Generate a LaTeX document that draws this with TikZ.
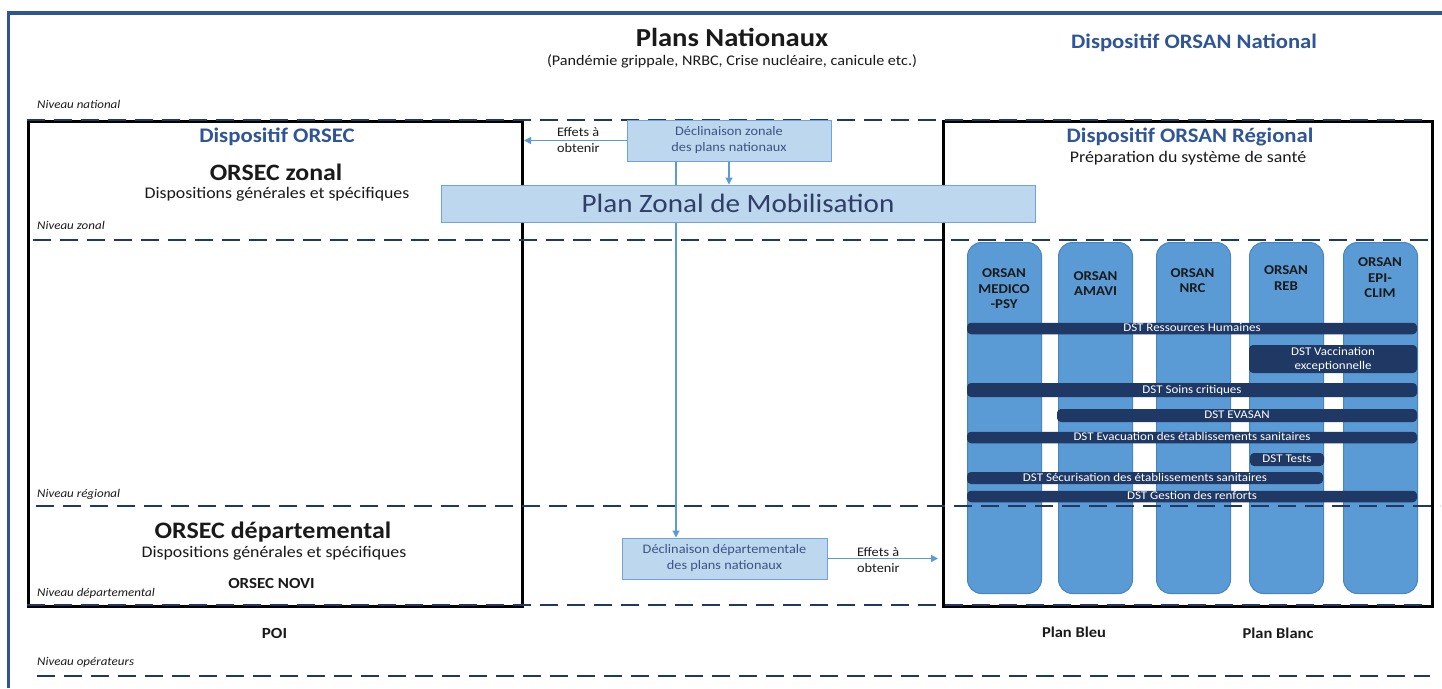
\documentclass[tikz,border=0pt]{standalone}
\usepackage{fontspec}
\setmainfont{Carlito}[FakeStretch=1.1]
\usetikzlibrary{arrows.meta}
\definecolor{frameblue}{HTML}{2F5597}
\definecolor{navy}{HTML}{1F3864}
\definecolor{lbfill}{HTML}{BDD7EE}
\definecolor{lbborder}{HTML}{6FA3DA}
\definecolor{colfill}{HTML}{5B9BD5}
\definecolor{colborder}{HTML}{4A84BF}
\definecolor{pzmtxt}{HTML}{2F3F66}
\definecolor{dectxt}{HTML}{3D5483}
\definecolor{arrowblue}{HTML}{5B9BD5}
\definecolor{txtblack}{HTML}{1A1A1A}
\tikzset{
  fs/.style={font=\fontsize{#1}{#1}\selectfont},
  plain/.style={inner sep=0, text=txtblack},
  lvl/.style={inner sep=0, anchor=west, text=txtblack, font=\fontsize{11.8}{13}\selectfont\itshape},
  blackbox/.style={draw=black, line width=3, anchor=north west, inner sep=0},
  niveaudash/.style={draw=navy, line width=2.5, dash pattern=on 18pt off 9pt},
  lightbox/.style={draw=lbborder, fill=lbfill, line width=1, inner sep=0, text=dectxt, align=center},
  colbox/.style={draw=colborder, fill=colfill, line width=1, rounded corners=14, anchor=north west, inner sep=0, minimum width=74, minimum height=351},
  collab/.style={inner sep=0, text=txtblack, align=center, font=\fontsize{13.5}{15.5}\selectfont\bfseries},
  dstbase/.style={fill=navy, rounded corners=4, inner sep=0, text=white, font=\fontsize{11.8}{14}\selectfont, align=center},
  dstbar/.style={dstbase, text height=8, text depth=2},
  arr/.style={draw=arrowblue, line width=1.2, -{Triangle[length=7pt,width=7pt]}},
  effets/.style={inner sep=0, anchor=west, text=txtblack, align=left, font=\fontsize{13}{16}\selectfont}
}
\begin{document}
\begin{tikzpicture}[x=1pt,y=-1pt]
\useasboundingbox (0,0) rectangle (1442,688);
\fill[white] (0,0) rectangle (1442,688);
% outer frame
\draw[frameblue, line width=3.5] (8.5,688) -- (8.5,13) -- (1442,13);
% titles
\node[plain, font=\fontsize{26}{30}\selectfont\bfseries] (title) at (732,37) {Plans Nationaux};
\node[plain, fs=14.7] (subtitle) at (732,61) {(Pandémie grippale, NRBC, Crise nucléaire, canicule etc.)};
\node[plain, font=\fontsize{20.6}{24}\selectfont\bfseries, text=frameblue] (orsannat) at (1194,43) {Dispositif ORSAN National};
% black boxes
\node[blackbox, minimum width=494, minimum height=485] (leftbox) at (27,120) {};
\node[blackbox, minimum width=489, minimum height=485] (rightbox) at (942,120) {};
% columns
\node[colbox] (col1) at (967,242) {};
\node[colbox] (col2) at (1058,242) {};
\node[colbox] (col3) at (1156,242) {};
\node[colbox] (col4) at (1249,242) {};
\node[colbox] (col5) at (1343,242) {};
\node[collab] (lab1) at (1004,289) {ORSAN\\MEDICO\\-PSY};
\node[collab] (lab2) at (1095.5,283.5) {ORSAN\\AMAVI};
\node[collab] (lab3) at (1192.5,280.5) {ORSAN\\NRC};
\node[collab] (lab4) at (1286,278) {ORSAN\\REB};
\node[collab] (lab5) at (1380,278) {ORSAN\\EPI-\\CLIM};
% DST bars
\node[dstbar, minimum width=450, minimum height=11.5] (rh) at (1192,328.5) {DST Ressources Humaines};
\node[dstbase, minimum width=168, minimum height=28] (vacc) at (1333,359) {DST Vaccination\\exceptionnelle};
\node[dstbar, minimum width=450, minimum height=14] (soins) at (1192,390) {DST Soins critiques};
\node[dstbar, minimum width=360, minimum height=13] (evasan) at (1237,415.5) {DST EVASAN};
\node[dstbar, minimum width=450, minimum height=11.5] (evac) at (1192,437.5) {DST Evacuation des établissements sanitaires};
\node[dstbar, minimum width=74, minimum height=13] (tests) at (1287,459.5) {DST Tests};
\node[dstbar, minimum width=356, minimum height=12] (secur) at (1145,478) {DST Sécurisation des établissements sanitaires};
\node[dstbar, minimum width=450, minimum height=11.5] (renf) at (1192,496.5) {DST Gestion des renforts};
% level dashed lines
\draw[niveaudash] (27,120) -- (1430,120);
\draw[niveaudash] (33,240) -- (1430,240);
\draw[niveaudash] (36,506) -- (1440,506);
\draw[niveaudash] (27,605) -- (1430,605);
\draw[niveaudash] (37,676) -- (1430,676);
% level labels
\node[lvl] (nnat) at (37,104) {Niveau national};
\node[lvl] (nzon) at (37,225) {Niveau zonal};
\node[lvl] (nreg) at (37,494) {Niveau régional};
\node[lvl] (ndep) at (37,593) {Niveau départemental};
\node[lvl] (nope) at (37,662) {Niveau opérateurs};
% left box texts
\node[plain, font=\fontsize{20.7}{24}\selectfont\bfseries, text=frameblue] (dorsec) at (277,137) {Dispositif ORSEC};
\node[plain, font=\fontsize{23.5}{27}\selectfont\bfseries] (orsecz) at (276,172) {ORSEC zonal};
\node[plain, fs=16.2] (dispz) at (277,194) {Dispositions générales et spécifiques};
\node[plain, font=\fontsize{23.6}{27}\selectfont\bfseries] (orsecd) at (273,532) {ORSEC départemental};
\node[plain, fs=16.2] (dispd) at (274,553) {Dispositions générales et spécifiques};
\node[plain, font=\fontsize{15.4}{17}\selectfont\bfseries] (novi) at (271.5,583) {ORSEC NOVI};
\node[plain, font=\fontsize{15.5}{18}\selectfont\bfseries] (poi) at (274.5,633) {POI};
% right box texts
\node[plain, font=\fontsize{20.6}{24}\selectfont\bfseries, text=frameblue] (orsanreg) at (1190,137) {Dispositif ORSAN Régional};
\node[plain, fs=16.2] (prep) at (1188,158) {Préparation du système de santé};
\node[plain, font=\fontsize{15}{18}\selectfont\bfseries] (pbleu) at (1074,632) {Plan Bleu};
\node[plain, font=\fontsize{15}{18}\selectfont\bfseries] (pblanc) at (1278,633) {Plan Blanc};
% middle boxes
\node[lightbox, minimum width=204, minimum height=41, font=\fontsize{13}{16}\selectfont] (decZ) at (729,140.5) {Déclinaison zonale\\des plans nationaux};
\node[lightbox, minimum width=205, minimum height=41, font=\fontsize{13}{16}\selectfont] (decD) at (724.5,558.5) {Déclinaison départementale\\des plans nationaux};
\node[effets] (eff1) at (557,140) {Effets à\\obtenir};
\node[effets] (eff2) at (857,560) {Effets à\\obtenir};
% vertical connector behind the zonal plan
\draw[arr] ([xshift=-53pt]decZ.south) -- ([xshift=-53pt]decZ.south |- decD.north);
\node[lightbox, minimum width=594, minimum height=37, font=\fontsize{26.5}{30}\selectfont, text=pzmtxt] (pzm) at (738,203.5) {Plan Zonal de Mobilisation};
% arrows
\draw[arr] (decZ.west) -- (decZ.west -| leftbox.east);
\draw[arr] (decZ.south) -- (decZ.south |- pzm.north);
\draw[arr, shorten >=4pt] (decD.east) -- (decD.east -| rightbox.west);
\end{tikzpicture}
\end{document}
